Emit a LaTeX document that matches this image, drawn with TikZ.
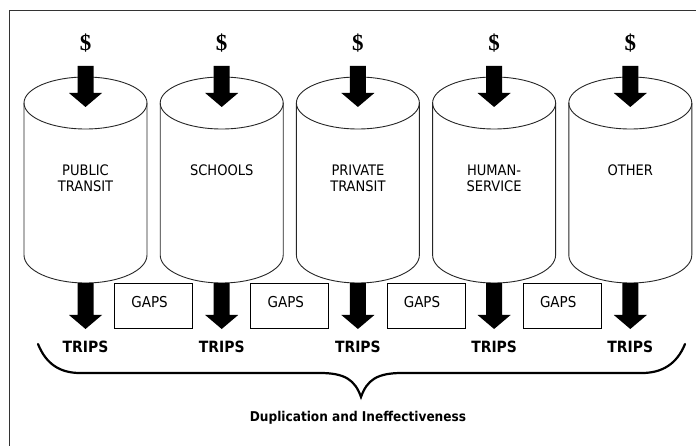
\documentclass[tikz,border=0pt]{standalone}
\usepackage{fontspec}
\newfontfamily\cond{DejaVu Sans Condensed}
\newfontfamily\dollarfont{Liberation Serif}
\begin{document}
\begin{tikzpicture}[x=1pt,y=-1pt,
  cyl/.style={draw=black!85,line width=0.9pt,fill=white},
  lbl/.style={font=\cond\fontsize{14.5}{16}\selectfont,align=center,anchor=north,inner sep=0pt},
  gapbox/.style={draw=black,line width=1pt,minimum width=78pt,minimum height=44pt,inner sep=0pt},
  gaptext/.style={font=\cond\fontsize{15}{16}\selectfont,inner sep=0pt},
  trips/.style={font=\cond\bfseries\fontsize{15.5}{16}\selectfont,inner sep=0pt},
  dollar/.style={font=\dollarfont\bfseries\fontsize{23}{24}\selectfont,inner sep=0pt},
  blockarrow/.style={fill=black,draw=none}]
\useasboundingbox (0,0) rectangle (696,446);
% frame
\draw[line width=1.6pt,draw=black!80] (9.5,446) -- (9.5,10.5) -- (696,10.5);
\foreach \i/\lab in {0/{PUBLIC\\TRANSIT},1/{SCHOOLS},2/{PRIVATE\\TRANSIT},3/{HUMAN-\\SERVICE},4/{OTHER}}{
  \pgfmathsetmacro\cx{85.5+136.2*\i}
  \coordinate (top\i) at (\cx,103);
  \coordinate (bot\i) at (\cx,255);
  % cylinder body
  \path[cyl] ([xshift=-61.5pt]top\i) -- ([xshift=-61.5pt]bot\i)
     arc[start angle=180,end angle=0,x radius=61.5,y radius=28]
     -- ([xshift=61.5pt]top\i);
  \draw[cyl,fill=none] (top\i) ellipse [x radius=61.5, y radius=26];
  \node[lbl] (lab\i) at (\cx,165) {\lab};
  % dollar sign
  \node[dollar] (d\i) at (\cx,43) {\$};
  % top block arrow
  \fill[blockarrow] (\cx-8,66) -- (\cx+8,66) -- (\cx+8,93) -- (\cx+16.5,93)
     -- (\cx,107) -- (\cx-16.5,93) -- (\cx-8,93) -- cycle;
  % bottom block arrow
  \fill[blockarrow] (\cx-8,283) -- (\cx+8,283) -- (\cx+8,315) -- (\cx+16.5,315)
     -- (\cx,329) -- (\cx-16.5,315) -- (\cx-8,315) -- cycle;
  \node[trips] (t\i) at (\cx,347) {TRIPS};
}
\foreach \i in {0,1,2,3}{
  \pgfmathsetmacro\gx{153.6+136.2*\i}
  \node[gapbox] (g\i) at (\gx,306) {};
  \node[gaptext] (gt\i) at (\gx-4,302) {GAPS};
}
% brace
\coordinate (bl) at (38,344);
\coordinate (br) at (685,344);
\coordinate (tip) at (361,397);
\draw[line width=2.2pt,line cap=round] (bl) .. controls (46,364) and (60,373) .. (80,373)
  -- (320,373) .. controls (345,373) and (355,380) .. (tip)
  .. controls (367,380) and (377,373) .. (402,373)
  -- (642,373) .. controls (662,373) and (677,364) .. (br);
\node[font=\cond\bfseries\fontsize{13.5}{15}\selectfont,inner sep=0pt] (cap) at (358,418) {Duplication and Ineffectiveness};
\end{tikzpicture}
\end{document}
